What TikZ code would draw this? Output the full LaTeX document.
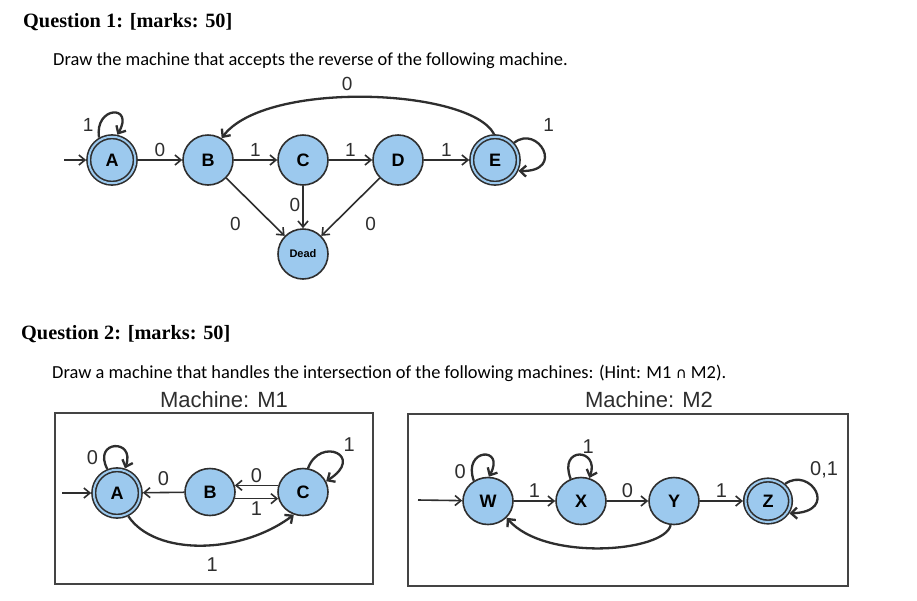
\documentclass[tikz,border=0pt]{standalone}
\usepackage{fontspec}
\setmainfont{Carlito}
\newfontfamily\hfont{Liberation Serif}
\newfontfamily\afont{Liberation Sans}
\newfontfamily\dvfont{DejaVu Sans}
\usetikzlibrary{arrows.meta,shapes.geometric,positioning}
\definecolor{bl}{HTML}{9CC9EE}
\definecolor{dk}{HTML}{2E2E2E}
\definecolor{bx}{HTML}{444444}
\tikzset{
  st/.style={circle, draw=dk, fill=bl, line width=1.6pt, minimum size=50pt, inner sep=0pt,
    font=\afont\bfseries\fontsize{18}{18}\selectfont},
  acc/.style={st, double=bl, double distance=2pt, minimum size=46.5pt, outer sep=2.6pt},
  stb/.style={ellipse, draw=dk, fill=bl, line width=1.6pt, minimum width=50pt, minimum height=47pt, inner sep=0pt,
    font=\afont\bfseries\fontsize{18}{18}\selectfont},
  accb/.style={stb, double=bl, double distance=2pt, minimum width=45pt, minimum height=42pt, outer sep=2.6pt},
  arr/.style={draw=dk, line width=1.6pt, -{Straight Barb[length=6pt,width=10pt]}},
  lp/.style={draw=dk, line width=2.3pt, -{Straight Barb[length=6pt,width=11pt]}},
  lbl/.style={font=\afont\fontsize{19}{19}\selectfont, inner sep=1pt, text=dk},
  lblb/.style={font=\afont\fontsize{20}{20}\selectfont, inner sep=1pt, text=dk},
  head/.style={anchor=west, inner sep=0pt, font=\hfont\bfseries\fontsize{20.3}{22}\selectfont},
  body/.style={anchor=west, inner sep=0pt, font=\fontsize{18.4}{20}\selectfont},
  mtitle/.style={inner sep=0pt, font=\afont\fontsize{22}{22}\selectfont, text=dk},
  box/.style={draw=bx, line width=1.4pt}
}
\begin{document}
\begin{tikzpicture}[x=1pt,y=-1pt]
\useasboundingbox[fill=white] (0,0) rectangle (917,600);

% ---------- texts ----------
\node[head] (h1) at (23,22) {Question 1: [marks: 50]};
\node[body] (t1) at (53,61) {Draw the machine that accepts the reverse of the following machine.};
\node[head] (h2) at (21,334) {Question 2: [marks: 50]};
\node[body] (t2) at (52,373) {Draw a machine that handles the intersection of the following machines: (Hint: M1 {\dvfont\fontsize{15}{17}\selectfont ∩} M2).};
\node[mtitle] (m1t) at (224,400) {Machine: M1};
\node[mtitle] (m2t) at (649,400) {Machine: M2};

% ---------- Question 1 machine ----------
\node[acc] (A1) at (112,160) {A};
\node[st]  (B1) at (208,160) {B};
\node[st]  (C1) at (303,160) {C};
\node[st]  (D1) at (398,160) {D};
\node[acc] (E1) at (495,160) {E};
\node[st, font=\afont\bfseries\fontsize{11}{11}\selectfont] (X1) at (303,254) {Dead};
\coordinate (s1) at (64,160);

\draw[arr] (s1) -- (A1);
\draw[arr] (A1) -- node[lbl, above=2pt] (l1) {0} (B1);
\draw[arr] (B1) -- node[lbl, above=2pt] (l2) {1} (C1);
\draw[arr] (C1) -- node[lbl, above=2pt] (l3) {1} (D1);
\draw[arr] (D1) -- node[lbl, above=2pt] (l4) {1} (E1);
\draw[lp] (A1.120) .. controls (94,106) and (135,104) .. node[lbl, pos=0.15, left=4pt] (l5) {1} (A1.78);
\draw[lp] (E1.42) .. controls (538,124) and (566,172) .. node[lbl, pos=0.35, above right=9pt and 4pt] (l6) {1} (E1.-25);
\draw[lp] (E1.92) .. controls (470,88) and (265,80) .. node[lbl, pos=0.55, above=4pt] (l7) {0} (B1.58);
\draw[arr] (B1) -- node[lbl, pos=0.62, below left=2pt and 20pt] (l8) {0} (X1);
\draw[arr] (C1) -- node[lbl, pos=0.45, left=1pt] (l9) {0} (X1);
\draw[arr] (D1) -- node[lbl, pos=0.62, below right=2pt and 20pt] (l10) {0} (X1);

% ---------- Machine M1 ----------
\draw[box] (55,413) rectangle (373,584);
\node[acc] (A2) at (117,493) {A};
\node[stb] (B2) at (210,492) {B};
\node[stb] (C2) at (303,492) {C};
\coordinate (s2) at (62,493);
\draw[arr] (s2) -- (A2);
\draw[lp] (A2.112) .. controls (92,440) and (136,438) .. node[lblb, pos=0.15, left=4pt] (m1) {0} (A2.72);
\draw[arr] (B2) -- node[lblb, above=5pt] (m2) {0} (A2);
\draw[arr] (C2.165) -- node[lblb, above=1pt] (m3) {0} (B2.15);
\draw[arr] (B2.-15) -- node[lblb, below=1pt] (m4) {1} (C2.195);
\draw[lp] (C2.78) .. controls (320,436) and (366,456) .. node[lblb, pos=0.5, above right=0pt and 5pt] (m5) {1} (C2.25);
\draw[lp] (A2.-64) .. controls (155,556) and (240,555) .. node[lblb, pos=0.56, below=11pt] (m6) {1} (C2.-112);

% ---------- Machine M2 ----------
\draw[box] (408,414) rectangle (848,586);
\node[stb]  (W) at (488,501) {W};
\node[stb]  (X) at (581,501) {X};
\node[stb]  (Y) at (674,501) {Y};
\node[accb] (Z) at (768,501) {Z};
\coordinate (s3) at (418,500);
\draw[arr] (s3) -- (W);
\draw[arr] (W) -- node[lblb, above=2pt] (n1) {1} (X);
\draw[arr] (X) -- node[lblb, above=2pt] (n2) {0} (Y);
\draw[arr] (Y) -- node[lblb, above=2pt] (n3) {1} (Z);
\draw[lp] (W.125) .. controls (462,448) and (506,446) .. node[lblb, pos=0.1, left=4pt] (n4) {0} (W.88);
\draw[lp] (X.115) .. controls (558,446) and (600,448) .. node[lblb, pos=0.72, above=4pt] (n5) {1} (X.70);
\draw[lp] (Z.45) .. controls (810,466) and (840,512) .. node[lblb, pos=0.2, above right=0pt and 8pt] (n6) {0,1} (Z.-30);
\draw[lp] (Y.-98) .. controls (665,552) and (545,562) .. (W.-42);

\end{tikzpicture}
\end{document}
